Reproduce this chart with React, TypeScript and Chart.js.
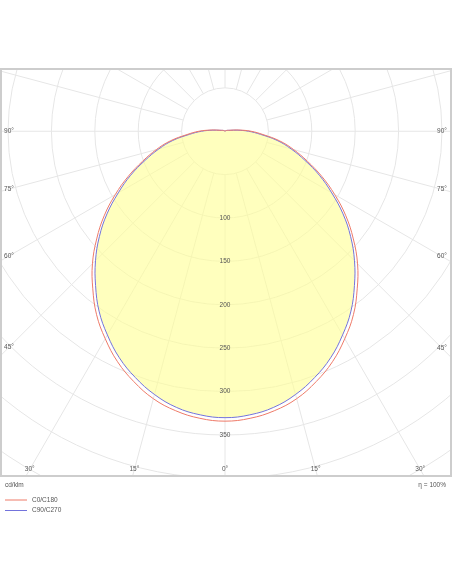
import { useEffect, useRef } from "react";
import { Chart, registerables } from "chart.js";

Chart.register(...registerables);

// gamma angle (deg, 0 = straight down) and luminous intensity (cd/klm)
const GAMMA = [
  0, 5, 10, 15, 20, 25, 30, 35, 40, 45, 50, 55, 60, 65, 70, 75, 80, 85, 90,
  95, 100, 105, 110, 115, 120, 125, 130, 135, 140, 145, 150, 155, 160, 165, 170, 175, 180,
];
const C0_C180 = [
  334, 332, 327, 319, 307, 293, 276, 258, 237, 216, 193, 170, 146, 123, 101, 82, 64, 44, 30,
  16, 7, 4, 3, 2, 2, 1, 1, 1, 1, 0, 0, 0, 0, 0, 0, 0, 0,
];
const C90_C270 = [
  330, 328, 323, 314, 302, 288, 271, 253, 232, 211, 189, 166, 142, 120, 98, 79, 61, 41, 27,
  14, 6, 4, 3, 2, 1, 1, 1, 1, 0, 0, 0, 0, 0, 0, 0, 0, 0,
];

const RINGS = [50, 100, 150, 200, 250, 300, 350, 400, 450, 500];
const RING_LABELS = [100, 150, 200, 250, 300, 350];
const SPOKES = [
  0, 15, 30, 45, 60, 75, 90, 105, 120, 135, 150, 165, 180, 195, 210, 225, 240, 255, 270, 285,
  300, 315, 330, 345,
];
const SIDE_LABELS = [90, 75, 60, 45];
const BOTTOM_LABELS = [-30, -15, 0, 15, 30];

const RED = "#ee7a68";
const BLUE = "#7373dc";
const FONT = '6.5px "Liberation Sans", Arial, sans-serif';

const rad = (d: number) => (d * Math.PI) / 180;

// mirror a half-plane C-plane into a closed polar outline
function outline(values: number[]) {
  const pts: { x: number; y: number }[] = [];
  for (let i = GAMMA.length - 1; i >= 0; i--) {
    pts.push({ x: -values[i] * Math.sin(rad(GAMMA[i])), y: values[i] * Math.cos(rad(GAMMA[i])) });
  }
  for (let i = 1; i < GAMMA.length; i++) {
    pts.push({ x: values[i] * Math.sin(rad(GAMMA[i])), y: values[i] * Math.cos(rad(GAMMA[i])) });
  }
  return pts;
}

const polarGrid = {
  id: "polarGrid",
  beforeDatasetsDraw(chart: any) {
    const { ctx, chartArea: a, scales } = chart;
    const x = scales.x;
    const y = scales.y;
    const cx = x.getPixelForValue(0);
    const cy = y.getPixelForValue(0);
    const ppu = (x.getPixelForValue(100) - cx) / 100;
    ctx.save();
    ctx.beginPath();
    ctx.rect(a.left, a.top, a.right - a.left, a.bottom - a.top);
    ctx.clip();
    ctx.strokeStyle = "#e6e6e6";
    ctx.lineWidth = 1;
    RINGS.forEach((r) => {
      ctx.beginPath();
      ctx.arc(cx, cy, r * ppu, 0, Math.PI * 2);
      ctx.stroke();
    });
    SPOKES.forEach((g) => {
      const s = Math.sin(rad(g));
      const c = Math.cos(rad(g));
      ctx.beginPath();
      ctx.moveTo(x.getPixelForValue(50 * s), y.getPixelForValue(50 * c));
      ctx.lineTo(x.getPixelForValue(700 * s), y.getPixelForValue(700 * c));
      ctx.stroke();
    });
    ctx.restore();
  },
  afterDraw(chart: any) {
    const { ctx, chartArea: a, scales } = chart;
    const x = scales.x;
    const y = scales.y;
    const cx = x.getPixelForValue(0);
    ctx.save();
    ctx.font = FONT;
    ctx.textAlign = "center";
    ctx.textBaseline = "middle";
    ctx.fillStyle = "#555";

    RING_LABELS.forEach((v) => {
      ctx.fillText(String(v), cx, y.getPixelForValue(v));
    });

    SIDE_LABELS.forEach((g) => {
      const s = Math.sin(rad(g));
      const c = Math.cos(rad(g));
      const leftX = x.getValueForPixel(a.left + 8);
      const rightX = x.getValueForPixel(a.right - 9);
      const rl = -leftX / s;
      const rr = rightX / s;
      ctx.fillText(g + "°", a.left + 8, y.getPixelForValue(rl * c));
      ctx.fillText(g + "°", a.right - 9, y.getPixelForValue(rr * c));
    });

    const by = y.getValueForPixel(a.bottom - 6.5);
    BOTTOM_LABELS.forEach((g) => {
      const r = by / Math.cos(rad(g));
      ctx.fillText(Math.abs(g) + "°", x.getPixelForValue(r * Math.sin(rad(g))), a.bottom - 6.5);
    });

    // frame
    ctx.strokeStyle = "#cdcdcd";
    ctx.lineWidth = 2;
    ctx.strokeRect(a.left, a.top, a.right - a.left, a.bottom - a.top);

    // footer: unit, efficiency, legend
    ctx.textAlign = "left";
    ctx.fillStyle = "#555";
    ctx.fillText("cd/klm", 5, 485);
    ctx.textAlign = "right";
    ctx.fillText("η = 100%", 446, 485);
    ctx.textAlign = "left";
    const legend = [
      { label: "C0/C180", color: RED, yy: 500 },
      { label: "C90/C270", color: BLUE, yy: 510.5 },
    ];
    legend.forEach((l) => {
      ctx.strokeStyle = l.color;
      ctx.lineWidth = 1;
      ctx.beginPath();
      ctx.moveTo(5, l.yy);
      ctx.lineTo(27, l.yy);
      ctx.stroke();
      ctx.fillStyle = "#555";
      ctx.fillText(l.label, 32, l.yy);
    });
    ctx.restore();
  },
};

export default function App() {
  const canvasRef = useRef<HTMLCanvasElement>(null);

  useEffect(() => {
    if (!canvasRef.current) return;
    const chart = new Chart(canvasRef.current, {
      type: "scatter",
      data: {
        datasets: [
          {
            label: "C0/C180",
            data: outline(C0_C180),
            showLine: true,
            borderColor: RED,
            borderWidth: 1,
            pointRadius: 0,
            tension: 0.4,
            fill: false,
          },
          {
            label: "C90/C270",
            data: outline(C90_C270),
            showLine: true,
            borderColor: BLUE,
            borderWidth: 1,
            pointRadius: 0,
            tension: 0.4,
            fill: "shape",
            backgroundColor: "rgba(255,255,150,0.62)",
          },
        ],
      },
      options: {
        responsive: false,
        animation: false,
        layout: { padding: { left: 1, right: 1, top: 69, bottom: 108 } },
        plugins: {
          legend: { display: false },
          tooltip: { enabled: false },
        },
        scales: {
          x: { type: "linear", display: false, min: -258.1, max: 260.4 },
          y: { type: "linear", display: false, reverse: true, min: -71.7, max: 397.2 },
        },
      },
      plugins: [polarGrid],
    });
    return () => chart.destroy();
  }, []);

  return (
    <div
      style={{
        position: "fixed",
        left: 0,
        top: 0,
        width: "452px",
        height: "584px",
        background: "#ffffff",
      }}
    >
      <canvas ref={canvasRef} width={452} height={584} />
    </div>
  );
}
